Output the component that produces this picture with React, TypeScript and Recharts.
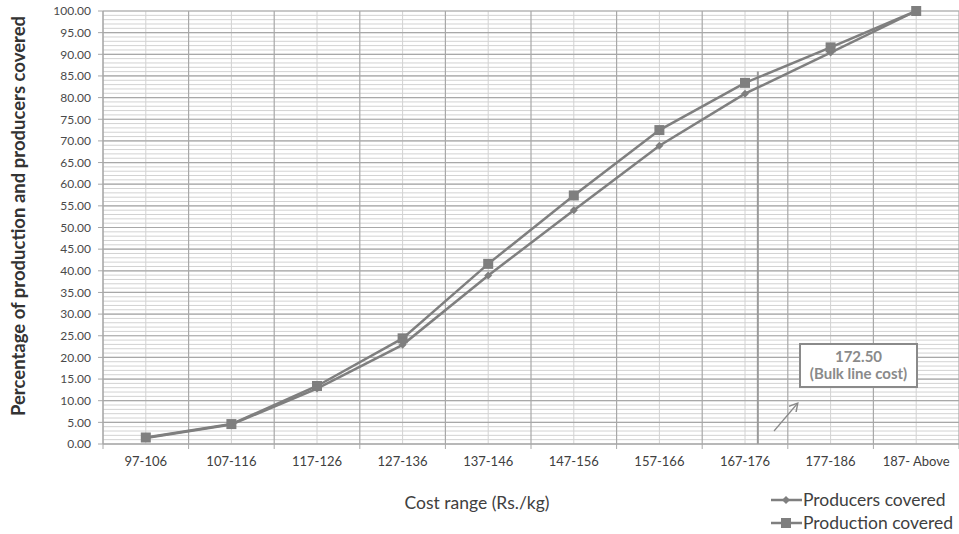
import {
  LineChart,
  Line,
  XAxis,
  YAxis,
  CartesianGrid,
  ReferenceLine,
} from 'recharts';

const categories = [
  '97-106',
  '107-116',
  '117-126',
  '127-136',
  '137-146',
  '147-156',
  '157-166',
  '167-176',
  '177-186',
  '187- Above',
];
const producersCovered = [1.4, 4.5, 12.8, 22.9, 38.9, 54.0, 68.9, 80.9, 90.4, 100.0];
const productionCovered = [1.5, 4.6, 13.4, 24.4, 41.6, 57.4, 72.5, 83.4, 91.6, 100.0];
const yTicks = [0, 5, 10, 15, 20, 25, 30, 35, 40, 45, 50, 55, 60, 65, 70, 75, 80, 85, 90, 95, 100];

// bulk line cost marker, in category units along the x axis
const bulkLineCost = '172.50';
const bulkLinePos = 7.65;
const bulkLineTop = 86;

const W = 959;
const H = 534;
const PLOT_LEFT = 103;
const PLOT_TOP = 11;
const PLOT_BOTTOM = 444;
const PLOT_W = W - PLOT_LEFT;
const HALF_CAT = PLOT_W / categories.length / 2;

const GRAY = '#7f7f7f';
const FONT = 'Lato, "Open Sans", sans-serif';

const data = categories.map((name, i) => ({
  pos: i + 0.5,
  name,
  producers: producersCovered[i],
  production: productionCovered[i],
}));

const boundaries = categories.map((_, i) => i).concat([categories.length]);
const centers = categories.map((_, i) => i + 0.5);
const minorY: number[] = [];
for (let v = 0; v <= 100; v += 1) minorY.push(v);

const XTick = (props: any) => {
  const { x, y, index } = props;
  if (index >= categories.length) return <g />;
  return (
    <text
      x={x + HALF_CAT}
      y={y + 6}
      dy="0.71em"
      textAnchor="middle"
      fontSize={13}
      fontFamily={FONT}
      fill="#404040"
    >
      {categories[index]}
    </text>
  );
};

const SquareDot = (props: any) => {
  const { cx, cy } = props;
  if (cx == null || cy == null) return null;
  return <rect x={cx - 5} y={cy - 5} width={10} height={10} fill={GRAY} />;
};

const DiamondDot = (props: any) => {
  const { cx, cy } = props;
  if (cx == null || cy == null) return null;
  const r = 4;
  return (
    <polygon
      points={`${cx},${cy - r} ${cx + r},${cy} ${cx},${cy + r} ${cx - r},${cy}`}
      fill={GRAY}
    />
  );
};

export default function App() {
  return (
    <div style={{ position: 'absolute', left: 0, top: 0, width: W, height: H, background: '#fff' }}>
      <LineChart
        width={W}
        height={H}
        data={data}
        margin={{ top: PLOT_TOP, right: 0, bottom: 0, left: 0 }}
      >
        <CartesianGrid
          stroke="#d2d2d2"
          strokeWidth={1}
          horizontalValues={minorY}
          verticalValues={centers}
        />
        <CartesianGrid
          stroke="#a8a8a8"
          strokeWidth={1.2}
          horizontalValues={yTicks}
          verticalValues={boundaries}
        />
        <XAxis
          dataKey="pos"
          type="number"
          domain={[0, categories.length]}
          ticks={boundaries}
          interval={0}
          height={H - PLOT_BOTTOM}
          tickSize={5}
          stroke="#a8a8a8"
          tick={<XTick />}
          allowDataOverflow
        />
        <YAxis
          type="number"
          domain={[0, 100]}
          ticks={yTicks}
          interval={0}
          width={PLOT_LEFT}
          tickSize={5}
          tickMargin={7}
          stroke="#a8a8a8"
          tickFormatter={(v: number) => v.toFixed(2)}
          tick={{ fontSize: 12, fontFamily: FONT, fill: '#4a4a4a' }}
        />
        <ReferenceLine
          segment={[
            { x: bulkLinePos, y: 0 },
            { x: bulkLinePos, y: bulkLineTop },
          ]}
          stroke="#9a9a9a"
          strokeWidth={2}
        />
        <Line
          type="linear"
          dataKey="producers"
          stroke={GRAY}
          strokeWidth={2.5}
          dot={<DiamondDot />}
          activeDot={false}
          isAnimationActive={false}
        />
        <Line
          type="linear"
          dataKey="production"
          stroke={GRAY}
          strokeWidth={2.5}
          dot={<SquareDot />}
          activeDot={false}
          isAnimationActive={false}
        />
      </LineChart>

      <svg
        width={W}
        height={H}
        style={{ position: 'absolute', left: 0, top: 0, pointerEvents: 'none' }}
        fontFamily={FONT}
      >
        <defs>
          <marker id="arrowHead" markerWidth="8" markerHeight="8" refX="6" refY="4" orient="auto">
            <path d="M0,0 L7,4 L0,8" fill="none" stroke="#8a8a8a" strokeWidth={1.2} />
          </marker>
        </defs>
        <text
          transform="translate(25,216) rotate(-90)"
          textAnchor="middle"
          fontSize={18.5}
          fontWeight="bold"
          fill="#333"
        >
          Percentage of production and producers covered
        </text>
        <text x={477} y={509} textAnchor="middle" fontSize={17.5} fill="#404040">
          Cost range (Rs./kg)
        </text>

        <line x1={774} y1={431} x2={797} y2={404} stroke="#8a8a8a" strokeWidth={1.2} markerEnd="url(#arrowHead)" />
        <rect x={800} y={344} width={117} height={43} fill="#fff" stroke="#8a8a8a" strokeWidth={2} />
        <text x={858.5} y={362} textAnchor="middle" fontSize={15} fontWeight="bold" fill="#8a8a8a">
          {bulkLineCost}
        </text>
        <text x={858.5} y={379} textAnchor="middle" fontSize={15} fontWeight="bold" fill="#8a8a8a">
          (Bulk line cost)
        </text>

        <line x1={771} y1={500} x2={802} y2={500} stroke={GRAY} strokeWidth={2.5} />
        <polygon points="786,496 790,500 786,504 782,500" fill={GRAY} />
        <text x={803} y={506} fontSize={17.5} fill="#404040">
          Producers covered
        </text>
        <line x1={771} y1={523} x2={802} y2={523} stroke={GRAY} strokeWidth={2.5} />
        <rect x={781} y={518} width={10} height={10} fill={GRAY} />
        <text x={803} y={529} fontSize={17.5} fill="#404040">
          Production covered
        </text>
      </svg>
    </div>
  );
}
